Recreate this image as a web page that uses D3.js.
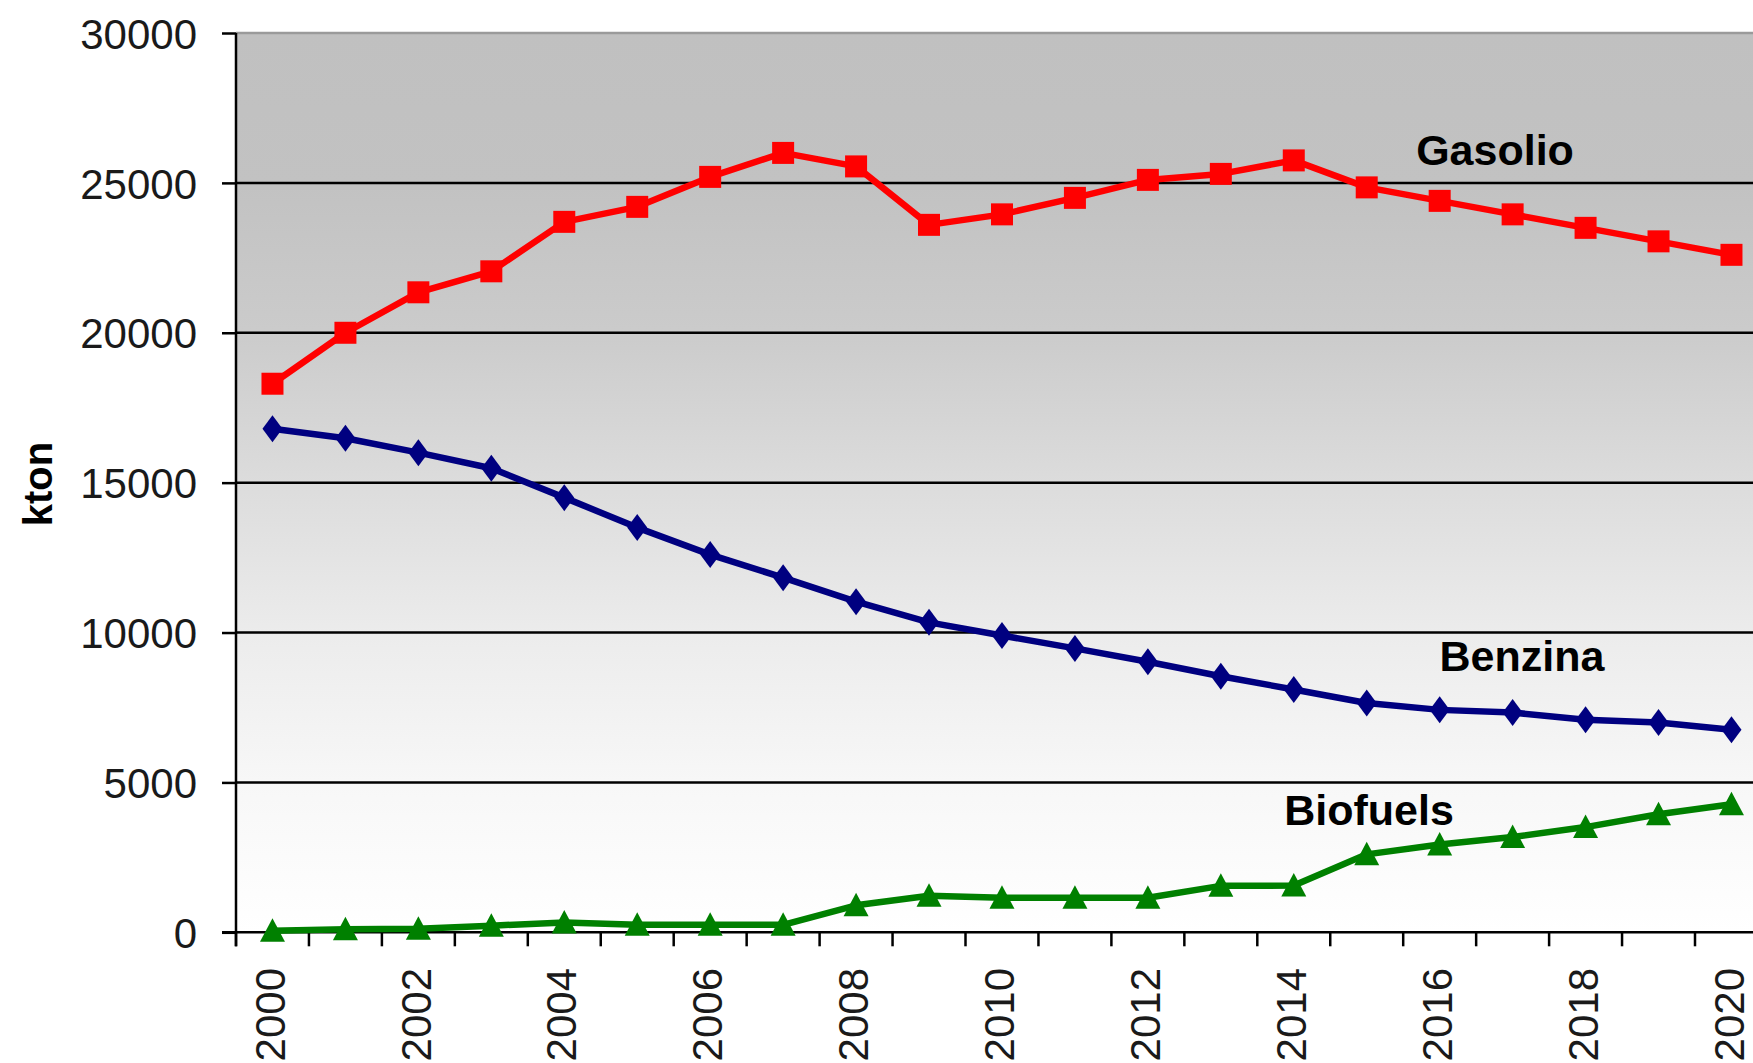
<!DOCTYPE html>
<html>
<head>
<meta charset="utf-8">
<script src="https://cdn.jsdelivr.net/npm/d3@7/dist/d3.min.js"></script>
<style>
  html, body { margin: 0; padding: 0; background: #ffffff; }
  svg { display: block; }
  .tick-label { font-family: "Liberation Sans", Arial, sans-serif; font-size: 42px; fill: #1a1a1a; }
  .series-label { font-family: "Liberation Sans", Arial, sans-serif; font-size: 43px; font-weight: bold; fill: #000; }
</style>
</head>
<body>
<svg id="chart" width="1753" height="1063"></svg>
<script>
// Fuel consumption for road transport, kton per year
const years = [2000, 2001, 2002, 2003, 2004, 2005, 2006, 2007, 2008, 2009, 2010,
               2011, 2012, 2013, 2014, 2015, 2016, 2017, 2018, 2019, 2020];
const gasolio  = [18300, 20000, 21350, 22050, 23700, 24200, 25200, 26000, 25550, 23600, 23950,
                  24500, 25100, 25300, 25750, 24850, 24400, 23950, 23500, 23050, 22600];
const benzina  = [16800, 16480, 16000, 15480, 14500, 13500, 12600, 11830, 11030, 10340, 9900,
                  9470, 9025, 8540, 8100, 7650, 7420, 7330, 7090, 7000, 6760];
const biofuels = [50, 100, 120, 220, 330, 250, 250, 250, 900, 1220, 1150,
                  1150, 1150, 1550, 1560, 2600, 2930, 3180, 3510, 3940, 4270];
const yTicks = [0, 5000, 10000, 15000, 20000, 25000, 30000];
const xLabelYears = [2000, 2002, 2004, 2006, 2008, 2010, 2012, 2014, 2016, 2018, 2020];
const seriesNames = ["Gasolio", "Benzina", "Biofuels"];

(function draw() {
  const svg = d3.select("#chart");

  const plotLeft = 236, plotTop = 33, plotBottom = 932.3;
  const band = 72.95;
  const plotRight = plotLeft + band * years.length;

  const x = d3.scaleBand().domain(years).range([plotLeft, plotRight]).padding(0);
  const y = d3.scaleLinear().domain([0, 30000]).range([plotBottom, plotTop]);
  const cx = yr => x(yr) + x.bandwidth() / 2;

  // Plot area background: grey at the top fading to white at the bottom
  const defs = svg.append("defs");
  const grad = defs.append("linearGradient")
    .attr("id", "plotFill").attr("x1", 0).attr("y1", 0).attr("x2", 0).attr("y2", 1);
  [[0, "#c0c0c0"], [0.17, "#c2c2c2"], [0.33, "#cbcbcb"], [0.5, "#dcdcdc"],
   [0.67, "#ececec"], [0.83, "#f7f7f7"], [1, "#ffffff"]]
    .forEach(([o, c]) => grad.append("stop").attr("offset", o).attr("stop-color", c));

  svg.append("rect")
    .attr("x", plotLeft).attr("y", plotTop)
    .attr("width", plotRight - plotLeft).attr("height", plotBottom - plotTop)
    .attr("fill", "url(#plotFill)");

  // Horizontal gridlines
  svg.append("g").selectAll("line")
    .data(yTicks.filter(v => v > 0))
    .join("line")
    .attr("x1", plotLeft).attr("x2", plotRight)
    .attr("y1", d => y(d)).attr("y2", d => y(d))
    .attr("stroke", d => d === 30000 ? "#9a9a9a" : "#000")
    .attr("stroke-width", 2.5);

  // Y axis with outward ticks
  const yAxis = svg.append("g")
    .attr("transform", `translate(${plotLeft},0)`)
    .call(d3.axisLeft(y).tickValues(yTicks).tickSize(14).tickPadding(25).tickFormat(d3.format("d")));
  yAxis.select(".domain").remove();
  yAxis.selectAll(".tick line").attr("stroke", "#000").attr("stroke-width", 2.5);
  yAxis.attr("font-family", null).attr("font-size", null);
  yAxis.selectAll(".tick text")
    .attr("class", "tick-label")
    .attr("fill", null)
    .attr("dy", "0.36em");

  // Axis lines
  svg.append("line")
    .attr("x1", plotLeft).attr("x2", plotLeft).attr("y1", plotTop).attr("y2", plotBottom + 14)
    .attr("stroke", "#000").attr("stroke-width", 2.5);
  svg.append("line")
    .attr("x1", plotLeft - 14).attr("x2", plotRight).attr("y1", plotBottom).attr("y2", plotBottom)
    .attr("stroke", "#000").attr("stroke-width", 2.5);

  // Category boundary ticks on the x axis
  const boundaries = years.map(yr => x(yr)).concat([plotRight]);
  svg.append("g").selectAll("line")
    .data(boundaries)
    .join("line")
    .attr("x1", d => d).attr("x2", d => d)
    .attr("y1", plotBottom).attr("y2", plotBottom + 14)
    .attr("stroke", "#000").attr("stroke-width", 2.5);

  // Rotated year labels
  svg.append("g").selectAll("text")
    .data(xLabelYears)
    .join("text")
    .attr("class", "tick-label")
    .attr("transform", d => `translate(${cx(d) - 3},968) rotate(-90)`)
    .attr("text-anchor", "end")
    .attr("dy", "0.36em")
    .text(d => d);

  // Y axis title
  svg.append("text")
    .attr("class", "series-label")
    .attr("transform", "translate(52,484) rotate(-90)")
    .attr("text-anchor", "middle")
    .style("font-size", "40px")
    .text("kton");

  // Series
  const series = [
    { name: seriesNames[0], values: gasolio,  color: "#ff0000", marker: "square" },
    { name: seriesNames[1], values: benzina,  color: "#000080", marker: "diamond" },
    { name: seriesNames[2], values: biofuels, color: "#008000", marker: "triangle" }
  ];

  const line = d3.line().x(d => cx(d.year)).y(d => y(d.value));

  const markerPath = {
    square:   "M-11,-11H11V11H-11Z",
    diamond:  "M0,-13.5L10,0L0,13.5L-10,0Z",
    triangle: "M0,-12.5L12.5,11H-12.5Z"
  };

  series.forEach(s => {
    const pts = years.map((yr, i) => ({ year: yr, value: s.values[i] }));
    const g = svg.append("g");
    g.append("path")
      .datum(pts)
      .attr("d", line)
      .attr("fill", "none")
      .attr("stroke", s.color)
      .attr("stroke-width", 6.5)
      .attr("stroke-linejoin", "round");
    g.selectAll("path.mk")
      .data(pts)
      .join("path")
      .attr("class", "mk")
      .attr("transform", d => `translate(${cx(d.year)},${y(d.value)})`)
      .attr("d", markerPath[s.marker])
      .attr("fill", s.color);
  });

  // Series labels inside the plot
  const labelPos = [
    { text: seriesNames[0], x: 1495, y: 165 },
    { text: seriesNames[1], x: 1522, y: 671 },
    { text: seriesNames[2], x: 1369, y: 825 }
  ];
  svg.append("g").selectAll("text")
    .data(labelPos)
    .join("text")
    .attr("class", "series-label")
    .attr("x", d => d.x).attr("y", d => d.y)
    .attr("text-anchor", "middle")
    .text(d => d.text);
})();
</script>
</body>
</html>
